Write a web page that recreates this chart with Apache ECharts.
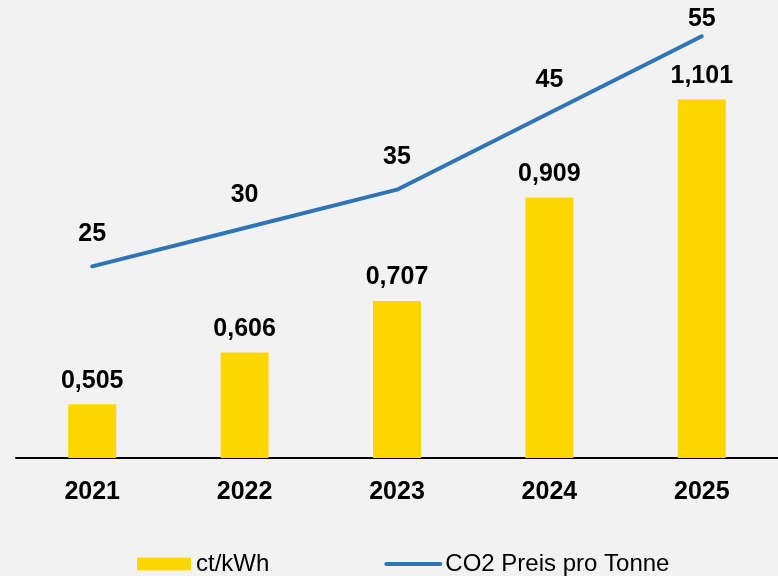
<!DOCTYPE html>
<html>
<head>
<meta charset="utf-8">
<script src="https://cdn.jsdelivr.net/npm/echarts@6/dist/echarts.min.js"></script>
<style>
    html,body{margin:0;padding:0;background:#f2f2f2;}
    #chart{width:778px;height:576px;}
</style>
</head>
<body>
<div id="chart"></div>
<script>
    var years = ['2021', '2022', '2023', '2024', '2025'];
    var ctKwh = [0.505, 0.606, 0.707, 0.909, 1.101];
    var co2Price = [25, 30, 35, 45, 55];

    function fmtComma(v){
        return v.toFixed(3).replace('.', ',');
    }

    var chart = echarts.init(document.getElementById('chart'));
    var option = {
        backgroundColor: '#f2f2f2',
        textStyle: {fontFamily: 'Liberation Sans, Arial, sans-serif'},
        animation: false,
        grid: {left: 16, width: 765, top: 20, bottom: 118},
        legend: {
            bottom: 0,
            left: 137,
            padding: 0,
            itemWidth: 54,
            itemHeight: 13,
            itemGap: 115,
            textStyle: {fontSize: 24, color: '#000'},
            data: [
                {name: 'ct/kWh', icon: 'rect'},
                {name: 'CO2 Preis pro Tonne', itemStyle: {opacity: 0}, lineStyle: {width: 4, cap: 'round'}}
            ]
        },
        xAxis: {
            type: 'category',
            data: years,
            axisLine: {lineStyle: {color: '#000', width: 2}},
            axisTick: {show: false},
            axisLabel: {color: '#000', fontSize: 25, fontWeight: 'bold', margin: 22}
        },
        yAxis: [
            {type: 'value', min: 0.4, max: 1.256, show: false, splitLine: {show: false}},
            {type: 'value', min: 0, max: 57.13, show: false, splitLine: {show: false}}
        ],
        series: [
            {
                name: 'ct/kWh',
                type: 'bar',
                yAxisIndex: 0,
                barWidth: 48,
                itemStyle: {color: '#ffd700'},
                label: {
                    show: true,
                    position: 'top',
                    distance: 11,
                    color: '#000',
                    fontSize: 25,
                    fontWeight: 'bold',
                    formatter: function(p){ return fmtComma(p.value); }
                },
                data: ctKwh
            },
            {
                name: 'CO2 Preis pro Tonne',
                type: 'line',
                yAxisIndex: 1,
                symbol: 'circle',
                symbolSize: 2,
                showSymbol: true,
                clip: false,
                lineStyle: {color: '#2e75b6', width: 4, cap: 'round'},
                itemStyle: {color: 'rgba(0,0,0,0)'},
                label: {
                    show: true,
                    position: 'top',
                    distance: 19,
                    color: '#000',
                    fontSize: 25,
                    fontWeight: 'bold'
                },
                data: co2Price.map(function(v, i){
                    if(i === co2Price.length - 1){
                        return {value: v, label: {distance: 4}};
                    }
                    return v;
                })
            }
        ]
    };
    chart.setOption(option);
    window.addEventListener('resize', chart.resize);
</script>
</body>
</html>
